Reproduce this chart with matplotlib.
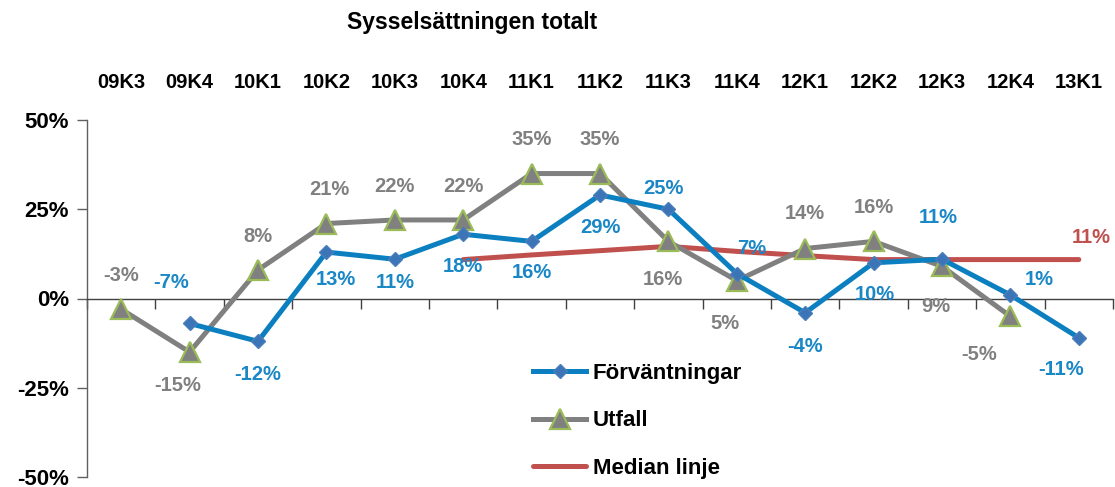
import matplotlib
matplotlib.use("Agg")
import matplotlib.pyplot as plt
from matplotlib.ticker import FixedLocator

plt.rcParams['font.family'] = ['Liberation Sans Narrow', 'Liberation Sans', 'DejaVu Sans']
plt.rcParams['font.weight'] = 'bold'

categories = ["09K3", "09K4", "10K1", "10K2", "10K3", "10K4", "11K1", "11K2",
              "11K3", "11K4", "12K1", "12K2", "12K3", "12K4", "13K1"]
forvantningar = [None, -7, -12, 13, 11, 18, 16, 29, 25, 7, -4, 10, 11, 1, -11]
utfall = [-3, -15, 8, 21, 22, 22, 35, 35, 16, 5, 14, 16, 9, -5, None]
median = [None, None, None, None, None, 10.9, 12.2, 13.4, 14.6, 13.2, 12.0, 10.9, 10.9, 10.9, 10.9]
yticks = [-50, -25, 0, 25, 50]
ytick_labels = ["-50%", "-25%", "0%", "25%", "50%"]

# label offsets (pixels, x right / y up)
forv_off = [None, (-18, 41), (0, -33), (9, -27), (0, -23), (0, -32), (0, -31), (0, -33),
            (-5, 21), (15, 25), (0, -34), (1, -32), (-4, 42), (29, 15), (-18, -32)]
utf_off = [(0, 34), (-12, -33), (0, 33), (3, 34), (0, 33), (0, 33), (0, 34), (0, 34),
           (-6, -38), (-12, -43), (0, 35), (0, 34), (-6, -40), (-31, -38), None]
med_label_off = (12, 22)

BLUE = '#0b7fbf'
BLUE_LBL = '#1a87c6'
GRAY = '#808080'
RED = '#c0504d'
GREEN = '#9bbb59'

fig = plt.figure(figsize=(11.15, 4.87), dpi=100)
ax = fig.add_axes([87/1115, 10/487, 1026/1115, 357/487])

x = list(range(len(categories)))

def xy(vals):
    xs = [i for i, v in zip(x, vals) if v is not None]
    ys = [v for v in vals if v is not None]
    return xs, ys

mx, my = xy(median)
ax.plot(mx, my, color=RED, lw=3.6, solid_capstyle='round', zorder=2, label='Median linje')
ux, uy = xy(utfall)
ax.plot(ux, uy, color=GRAY, lw=3.6, marker='^', ms=14, mfc=GRAY, mec=GREEN, mew=1.6,
        zorder=3, label='Utfall')
fx, fy = xy(forvantningar)
ax.plot(fx, fy, color=BLUE, lw=3.6, marker='D', ms=7, mfc='#3c74b8', mec='#4a7ebb',
        zorder=4, label='Förväntningar')

px2pt = 0.72
LBL_FS = 14.5
for i, v in enumerate(forvantningar):
    if v is None:
        continue
    dx, dy = forv_off[i]
    ax.annotate(f"{v}%", (i, v), xytext=(dx*px2pt, dy*px2pt), textcoords='offset points',
                ha='center', va='center', color=BLUE_LBL, fontsize=LBL_FS, fontweight='bold', zorder=6)
for i, v in enumerate(utfall):
    if v is None:
        continue
    dx, dy = utf_off[i]
    ax.annotate(f"{v}%", (i, v), xytext=(dx*px2pt, dy*px2pt), textcoords='offset points',
                ha='center', va='center', color=GRAY, fontsize=LBL_FS, fontweight='bold', zorder=6)
ax.annotate(f"{round(median[-1])}%", (len(categories)-1, median[-1]),
            xytext=(med_label_off[0]*px2pt, med_label_off[1]*px2pt), textcoords='offset points',
            ha='center', va='center', color=RED, fontsize=LBL_FS, fontweight='bold', zorder=6)

ax.set_xlim(-0.5, len(categories)-0.5)
ax.set_ylim(-50, 50)
ax.set_yticks(yticks)
ax.set_yticklabels(ytick_labels)
ax.set_xticks(x)
ax.set_xticklabels(categories)
ax.xaxis.set_minor_locator(FixedLocator([i - 0.5 for i in range(len(categories)+1)]))

for s in ['top', 'right']:
    ax.spines[s].set_visible(False)
ax.spines['bottom'].set_position(('data', 0))
ax.spines['bottom'].set_color('#404040')
ax.spines['left'].set_color('#606060')
ax.spines['bottom'].set_linewidth(1.0)
ax.spines['left'].set_linewidth(1.0)

ax.tick_params(axis='x', which='major', bottom=False, top=True, length=0,
               labelbottom=False, labeltop=True, pad=20, labelsize=14.5)
ax.tick_params(axis='x', which='minor', bottom=True, top=False, length=7, width=1,
               color='#404040', direction='out')
ax.tick_params(axis='y', which='major', length=7, width=1, color='#606060',
               labelsize=16, pad=6)
for lbl in ax.get_xticklabels() + ax.get_yticklabels():
    lbl.set_fontweight('bold')
ax.patch.set_visible(False)

handles, labels = ax.get_legend_handles_labels()
order = [2, 1, 0]
leg = ax.legend([handles[k] for k in order], [labels[k] for k in order],
                loc='center left', bbox_to_anchor=((533-87)/1026, (477-421)/357),
                frameon=False, fontsize=16, handlelength=2.4, handletextpad=0.3,
                labelspacing=1.2, borderpad=0, borderaxespad=0)
for t in leg.get_texts():
    t.set_fontweight('bold')

fig.text(472/1115, 1 - 23/487, "Sysselsättningen totalt", ha='center', va='center',
         fontsize=16.5, fontweight='bold')

fig.savefig("out.png", dpi=100)
